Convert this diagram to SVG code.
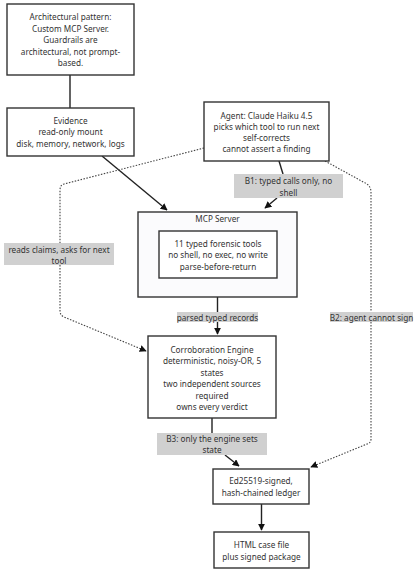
<svg xmlns="http://www.w3.org/2000/svg" width="417" height="573" viewBox="0 0 417 573">
<style>
text{font-family:"Noto Sans","Liberation Sans",sans-serif;font-size:8.2px;fill:#333;text-anchor:middle;dominant-baseline:central}
.box{fill:#fff;stroke:#333;stroke-width:1.4}
.grp{fill:#fbfbfd;stroke:#333;stroke-width:1.4}
.lbl{fill:#d0d0d0}
.solid{fill:none;stroke:#222;stroke-width:1.4}
.dot{fill:none;stroke:#444;stroke-width:1.1;stroke-dasharray:1.5 1.5}
</style>
<defs>
<marker id="ah" viewBox="0 0 10 10" refX="9" refY="5" markerWidth="7" markerHeight="7" markerUnits="userSpaceOnUse" orient="auto">
<path d="M0,0 L10,5 L0,10 z" fill="#111"/>
</marker>
</defs>
<rect width="417" height="573" fill="#fff"/>
<g id="connectors">
<path class="solid" d="M70,75 L70,108"/>
<path class="solid" d="M102,156 L167,210" marker-end="url(#ah)"/>
<path class="solid" d="M279,161 L283,174"/>
<path class="solid" d="M277,198 L265,208" marker-end="url(#ah)"/>
<path class="dot" d="M204,148 L64,184 Q60,185 60,190 L60,243"/>
<path class="dot" d="M60,265 L60,311 Q60,315 64,317 L146,351" marker-end="url(#ah)"/>
<path class="dot" d="M325,161 L367,184 Q371,187 371,192 L371,312"/>
<path class="dot" d="M371,322 L371,439 Q371,443 367,444 L311,467" marker-end="url(#ah)"/>
<path class="solid" d="M217.5,297 L217.5,312"/>
<path class="solid" d="M217.5,322 L217.5,334" marker-end="url(#ah)"/>
<path class="solid" d="M212,418 L212,433"/>
<path class="solid" d="M225,455 L239,466" marker-end="url(#ah)"/>
<path class="solid" d="M261.5,504 L261.5,530" marker-end="url(#ah)"/>
</g>
<g id="pattern">
<rect class="box" x="7" y="4" width="127" height="71"/>
<text x="70.5" y="16">Architectural pattern:</text>
<text x="70.5" y="28">Custom MCP Server.</text>
<text x="70.5" y="39.5">Guardrails are</text>
<text x="70.5" y="51">architectural, not prompt-</text>
<text x="70.5" y="62.5">based.</text>
</g>
<g id="evidence">
<rect class="box" x="7" y="108" width="127" height="48"/>
<text x="70.5" y="120">Evidence</text>
<text x="70.5" y="131.5">read-only mount</text>
<text x="70.5" y="143">disk, memory, network, logs</text>
</g>
<g id="agent">
<rect class="box" x="204" y="102" width="125" height="59"/>
<text x="266.5" y="115">Agent: Claude Haiku 4.5</text>
<text x="266.5" y="126">picks which tool to run next</text>
<text x="266.5" y="137.5">self-corrects</text>
<text x="266.5" y="148.5">cannot assert a finding</text>
</g>
<g id="mcp">
<rect class="grp" x="138" y="212" width="159" height="85"/>
<text x="217.5" y="218">MCP Server</text>
<g id="tools">
<rect class="box" x="159" y="231" width="118" height="47"/>
<text x="218" y="243">11 typed forensic tools</text>
<text x="218" y="254.5">no shell, no exec, no write</text>
<text x="218" y="266">parse-before-return</text>
</g>
</g>
<g id="engine">
<rect class="box" x="148" y="336" width="128" height="82"/>
<text x="212" y="349">Corroboration Engine</text>
<text x="212" y="360.5">deterministic, noisy-OR, 5</text>
<text x="212" y="372">states</text>
<text x="212" y="383.5">two independent sources</text>
<text x="212" y="395">required</text>
<text x="212" y="406.5">owns every verdict</text>
</g>
<g id="ledger">
<rect class="box" x="213" y="469" width="96" height="35"/>
<text x="261" y="480.5">Ed25519-signed,</text>
<text x="261" y="492">hash-chained ledger</text>
</g>
<g id="html">
<rect class="box" x="214" y="532" width="95" height="36"/>
<text x="261.5" y="544.5">HTML case file</text>
<text x="261.5" y="556">plus signed package</text>
</g>
<g id="labels">
<rect class="lbl" x="234" y="174" width="109" height="24"/>
<text x="288.5" y="180.5">B1: typed calls only, no</text>
<text x="288.5" y="192">shell</text>
<rect class="lbl" x="4" y="243" width="110" height="22"/>
<text x="59" y="249">reads claims, asks for next</text>
<text x="59" y="260.5">tool</text>
<rect class="lbl" x="177" y="312" width="81" height="10"/>
<text x="217.5" y="317">parsed typed records</text>
<rect class="lbl" x="330" y="312" width="83" height="10"/>
<text x="371.5" y="317">B2: agent cannot sign</text>
<rect class="lbl" x="157" y="433" width="110" height="22"/>
<text x="212" y="438">B3: only the engine sets</text>
<text x="212" y="449.5">state</text>
</g>
</svg>
